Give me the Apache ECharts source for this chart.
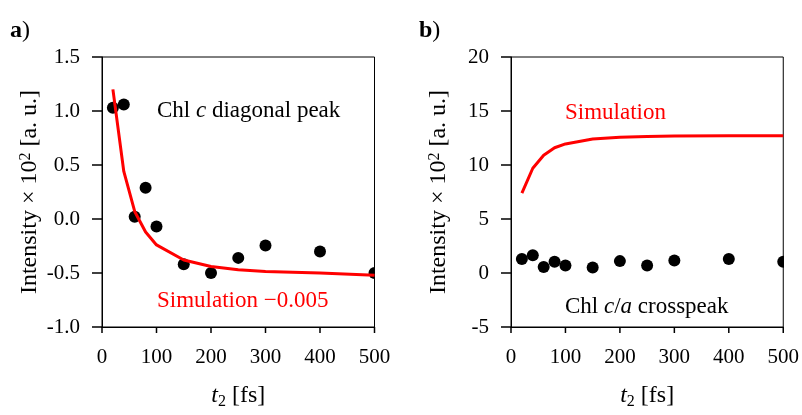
<!DOCTYPE html>
<html>
<head>
<meta charset="utf-8">
<script src="https://cdn.jsdelivr.net/npm/echarts@6/dist/echarts.min.js"></script>
<style>
  html, body { margin: 0; padding: 0; background: #fff; }
  #chart { width: 802px; height: 415px; }
</style>
</head>
<body>
<div id="chart"></div>
<script>
// Waiting times t2 [fs]
const t2 = [20, 40, 60, 80, 100, 150, 200, 250, 300, 400, 500];

// Panel a: Chl c diagonal peak (measured) and shifted simulation
const diagMeasured = [1.03, 1.06, 0.02, 0.29, -0.07, -0.42, -0.50, -0.36, -0.245, -0.30, -0.50];
const diagSimulation = [1.20, 0.44, 0.07, -0.12, -0.24, -0.38, -0.44, -0.47, -0.485, -0.50, -0.52];

// Panel b: Chl c/a crosspeak (measured) and simulation
const crossMeasured = [1.3, 1.65, 0.55, 1.05, 0.7, 0.5, 1.1, 0.7, 1.15, 1.3, 1.05];
const crossSimulation = [7.4, 9.7, 10.9, 11.6, 11.95, 12.4, 12.57, 12.64, 12.68, 12.7, 12.7];

// Tick positions
const xTickValues = [0, 100, 200, 300, 400, 500];
const yTickValuesA = [-1.0, -0.5, 0.0, 0.5, 1.0, 1.5];
const yTickValuesB = [-5, 0, 5, 10, 15, 20];

const FONT = 'Liberation Serif';
const RED = '#ff0000';
const INK = '#000';

const chart = echarts.init(document.getElementById('chart'), null, { renderer: 'canvas' });

const pair = (xs, ys) => xs.map((x, i) => [x, ys[i]]);
const first = a => a[0];
const last = a => a[a.length - 1];
const step = a => a[1] - a[0];

// Filled dots, clipped to the plot frame
const dotRenderer = (params, api) => {
  const p = api.coord([api.value(0), api.value(1)]);
  return { type: 'circle', shape: { cx: p[0], cy: p[1], r: 6 }, style: { fill: INK } };
};

// Outward tick marks on the bottom and left axes
const xTickRenderer = (params, api) => {
  const p = api.coord([api.value(0), api.value(1)]);
  return { type: 'line', shape: { x1: p[0], y1: p[1], x2: p[0], y2: p[1] + 6 }, style: { stroke: INK, lineWidth: 1.5 } };
};
const yTickRenderer = (params, api) => {
  const p = api.coord([api.value(0), api.value(1)]);
  return { type: 'line', shape: { x1: p[0] - 10, y1: p[1], x2: p[0], y2: p[1] }, style: { stroke: INK, lineWidth: 1.5 } };
};

function tickSeries(axisIndex, yTicks) {
  return [
    {
      type: 'custom', xAxisIndex: axisIndex, yAxisIndex: axisIndex, clip: false, silent: true, z: 3,
      data: xTickValues.map(v => [v, first(yTicks)]),
      renderItem: xTickRenderer
    },
    {
      type: 'custom', xAxisIndex: axisIndex, yAxisIndex: axisIndex, clip: false, silent: true, z: 3,
      data: yTicks.map(v => [first(xTickValues), v]),
      renderItem: yTickRenderer
    }
  ];
}

function xAxisFor(gridIndex) {
  return {
    type: 'value', gridIndex,
    min: first(xTickValues), max: last(xTickValues), interval: step(xTickValues),
    name: '{it|t}{sub|2}{n| [fs]}',
    nameLocation: 'middle', nameGap: 55,
    nameTextStyle: {
      fontFamily: FONT, fontSize: 24, color: INK,
      rich: {
        it: { fontFamily: FONT, fontSize: 24, fontStyle: 'italic', color: INK, lineHeight: 28 },
        sub: { fontFamily: FONT, fontSize: 16, color: INK, lineHeight: 16, verticalAlign: 'bottom' },
        n: { fontFamily: FONT, fontSize: 24, color: INK, lineHeight: 28 }
      }
    },
    axisLine: { show: true, onZero: false, lineStyle: { color: INK, width: 1 } },
    axisTick: { show: false },
    axisLabel: { fontFamily: FONT, fontSize: 21, color: INK, margin: 20 },
    splitLine: { show: false }
  };
}

function yAxisFor(gridIndex, ticks, decimals) {
  return {
    type: 'value', gridIndex,
    min: first(ticks), max: last(ticks), interval: step(ticks),
    name: 'Intensity × 10{sup|2} [a. u.]',
    nameLocation: 'middle', nameGap: 60, nameRotate: 90,
    nameTextStyle: {
      fontFamily: FONT, fontSize: 24, color: INK,
      rich: {
        sup: { fontFamily: FONT, fontSize: 16, color: INK, lineHeight: 16, verticalAlign: 'top' }
      }
    },
    axisLine: { show: true, onZero: false, lineStyle: { color: INK, width: 1 } },
    axisTick: { show: false },
    axisLabel: {
      fontFamily: FONT, fontSize: 21, color: INK, margin: 22,
      formatter: v => v.toFixed(decimals)
    },
    splitLine: { show: false }
  };
}

// Rich styles for free-standing text (zrender uses fill for text colour)
const textStyleRich = {
  n: { fontFamily: FONT, fontSize: 23, fill: INK },
  i: { fontFamily: FONT, fontSize: 23, fill: INK, fontStyle: 'italic' },
  r: { fontFamily: FONT, fontSize: 23, fill: RED },
  b: { fontFamily: FONT, fontSize: 24, fill: INK, fontWeight: 'bold' },
  p: { fontFamily: FONT, fontSize: 24, fill: INK }
};

function label(x, y, text) {
  return {
    type: 'text', x, y, silent: true, z: 10,
    style: { text, rich: textStyleRich, align: 'left', verticalAlign: 'middle' }
  };
}

chart.setOption({
  animation: false,
  backgroundColor: '#fff',
  grid: [
    { left: 102, top: 57, width: 272.5, height: 272, show: true, borderColor: INK, borderWidth: 1, backgroundColor: 'transparent' },
    { left: 511, top: 57, width: 272.5, height: 272, show: true, borderColor: INK, borderWidth: 1, backgroundColor: 'transparent' }
  ],
  xAxis: [xAxisFor(0), xAxisFor(1)],
  yAxis: [yAxisFor(0, yTickValuesA, 1), yAxisFor(1, yTickValuesB, 0)],
  series: [
    {
      type: 'line', xAxisIndex: 0, yAxisIndex: 0,
      data: pair(t2, diagSimulation),
      showSymbol: false, smooth: false,
      lineStyle: { color: RED, width: 3 }
    },
    {
      type: 'custom', xAxisIndex: 0, yAxisIndex: 0, clip: true,
      data: pair(t2, diagMeasured),
      renderItem: dotRenderer
    },
    {
      type: 'line', xAxisIndex: 1, yAxisIndex: 1,
      data: pair(t2, crossSimulation),
      showSymbol: false, smooth: false,
      lineStyle: { color: RED, width: 3 }
    },
    {
      type: 'custom', xAxisIndex: 1, yAxisIndex: 1, clip: true,
      data: pair(t2, crossMeasured),
      renderItem: dotRenderer
    },
    ...tickSeries(0, yTickValuesA),
    ...tickSeries(1, yTickValuesB)
  ],
  graphic: [
    label(10, 31, '{b|a}{p|)}'),
    label(419, 31, '{b|b}{p|)}'),
    label(157, 111, '{n|Chl }{i|c}{n| diagonal peak}'),
    label(157, 301, '{r|Simulation −0.005}'),
    label(565, 113, '{r|Simulation}'),
    label(565, 307, '{n|Chl }{i|c}{n|/}{i|a}{n| crosspeak}')
  ]
});
</script>
</body>
</html>
